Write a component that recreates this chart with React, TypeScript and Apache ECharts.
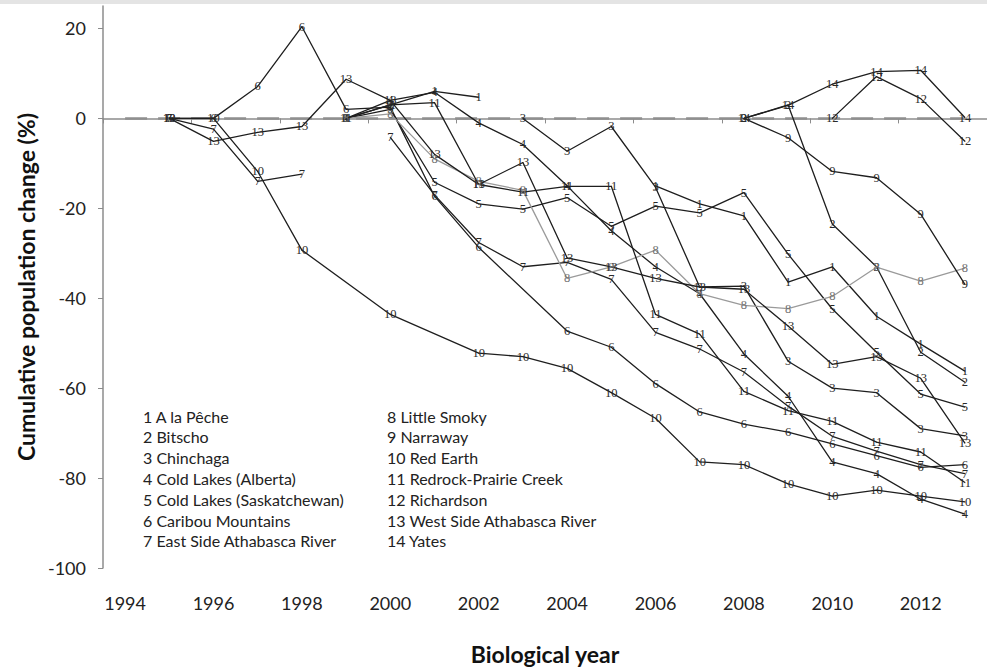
import React, { useEffect, useRef } from "react";
import * as echarts from "echarts";

const years = ["1994","1995","1996","1997","1998","1999","2000","2001","2002","2003","2004","2005","2006","2007","2008","2009","2010","2011","2012","2013"];
const n = null;
const s1 = [n,n,n,n,n,0,3,6,4.7,n,n,n,-15,-19,-21.7,-36.4,-33,-44,-50.2,-56.2];
const s2 = [n,n,n,n,n,n,n,n,n,n,n,n,n,n,0,3,-23.5,-33,-52,-58.7];
const s3 = [n,n,n,n,n,n,n,n,n,0,-7.3,-1.8,-15.3,-37.5,-37.3,-54,-60,-61,-69,-70.6];
const s4 = [n,n,n,n,n,0,4,5.8,-1,-5.8,-15,-25,-33,-39,-52.4,-61.8,-76.4,-79,-84.7,-88];
const s5 = [n,n,n,n,n,0,2,-14.2,-19,-20.2,-17.6,-24,-19.5,-21,-16.5,-30.2,-42.4,-52,-61.3,-64.2];
const s6 = [n,0,0,7.1,20.4,2,2.5,-17.3,-28.7,n,-47.3,-50.9,-59,-65.3,-68,-69.8,-72.4,-75,-77.6,-77];
const s7 = [n,0,-2.4,-14,-12.4,n,-4.2,-17,-27.6,-33,-32,-35.8,-47.6,-51.3,-56.4,-64,-70.7,-74,-77,-79];
const s8 = [n,n,n,n,n,0,1,-9,-14,-16,-35.6,-33,-29.3,-39,-41.6,-42.3,-39.6,-33.1,-36.2,-33.3];
const s9 = [n,n,n,n,n,n,n,n,n,n,n,n,n,n,0,-4.3,-11.8,-13.2,-21.3,-36.9];
const s10 = [n,0,0,-11.8,-29.3,n,-43.6,n,-52.2,-53,-55.6,-61,-66.7,-76.4,-77,-81.3,-84,-82.7,-84,-85.3];
const s11 = [n,n,n,n,n,0,3,3.5,-14.7,-16.4,-15.1,-15.1,-43.6,-48,-60.7,-65,-67.4,-72,-74.2,-81];
const s12 = [n,n,n,n,n,n,n,n,n,n,n,n,n,n,n,n,0,9.3,4.4,-5.1];
const s13 = [n,0,-5.1,-3.1,-1.8,8.7,4,-8,-14.7,-9.8,-31,-33,-35.6,-37.5,-38,-46.2,-54.7,-53,-57.8,-72.2];
const s14 = [n,n,n,n,n,n,n,n,n,n,n,n,n,n,0,2.9,7.6,10.4,10.7,0.2];
const zero = years.map(() => 0);

const allSeries = [s1,s2,s3,s4,s5,s6,s7,s8,s9,s10,s11,s12,s13,s14];
const connect = [false,false,false,false,false,true,false,false,false,true,false,false,false,false];

const legendLeft = ["1 A la Pêche","2 Bitscho","3 Chinchaga","4 Cold Lakes (Alberta)","5 Cold Lakes (Saskatchewan)","6 Caribou Mountains","7 East Side Athabasca River"];
const legendRight = ["8 Little Smoky","9 Narraway","10 Red Earth","11 Redrock-Prairie Creek","12 Richardson","13 West Side Athabasca River","14 Yates"];

export default function App() {
  const ref = useRef<HTMLDivElement>(null);
  useEffect(() => {
    document.body.style.margin = "0";
    const chart = echarts.init(ref.current!, null, { renderer: "svg" });
    const lineSeries: any[] = allSeries.map((d, i) => {
      const gray = i === 7;
      const c = gray ? "#9a9a9a" : "#1e1e1e";
      const tc = gray ? "#707070" : "#2a2a2a";
      return {
        type: "line",
        name: String(i + 1),
        color: c,
        data: d,
        connectNulls: connect[i],
        symbol: "circle",
        symbolSize: 1,
        lineStyle: { color: c, width: 1.3 },
        itemStyle: { color: c, borderWidth: 0 },
        label: {
          show: true,
          position: "inside",
          formatter: String(i + 1),
          fontFamily: "Liberation Serif",
          fontSize: 12.5,
          color: tc,
          textBorderWidth: 0,
        },
        emphasis: { disabled: true },
        z: 3,
      };
    });
    const textEls: any[] = [];
    legendLeft.forEach((t, i) =>
      textEls.push({ type: "text", left: 143, top: 408 + i * 20.8, style: { text: t, font: "16px Lato", fill: "#222" } })
    );
    legendRight.forEach((t, i) =>
      textEls.push({ type: "text", left: 387, top: 408 + i * 20.8, style: { text: t, font: "16px Lato", fill: "#222" } })
    );
    textEls.push({ type: "rect", left: 0, top: 0, shape: { width: 987, height: 4 }, style: { fill: "#e4e4e4" } });
    chart.setOption({
      animation: false,
      backgroundColor: "#ffffff",
      grid: { left: 103, right: 0, top: 6, bottom: 98, containLabel: false },
      xAxis: {
        type: "category",
        data: years,
        boundaryGap: true,
        axisLine: { lineStyle: { color: "#8c8c8c", width: 1.5 } },
        axisTick: { show: true, interval: 1, length: 5, lineStyle: { color: "#8c8c8c" } },
        axisLabel: { interval: 1, margin: 26, fontFamily: "Lato", fontSize: 18, color: "#222" },
        name: "Biological year",
        nameLocation: "middle",
        nameGap: 74,
        nameTextStyle: { fontFamily: "Lato", fontSize: 23, fontWeight: "bold", color: "#111" },
      },
      yAxis: {
        type: "value",
        min: -100,
        max: 25,
        interval: 20,
        splitLine: { show: false },
        axisLine: { show: true, lineStyle: { color: "#8c8c8c", width: 1.5 } },
        axisTick: { show: true, length: 5, lineStyle: { color: "#8c8c8c" } },
        axisLabel: { showMaxLabel: false, margin: 17, fontFamily: "Lato", fontSize: 18, color: "#222" },
        name: "Cumulative population change (%)",
        nameLocation: "middle",
        nameGap: 66,
        nameTextStyle: { fontFamily: "Lato", fontSize: 23, fontWeight: "bold", color: "#111" },
      },
      graphic: textEls,
      series: [
        {
          type: "line",
          name: "zero",
          data: zero,
          symbol: "none",
          lineStyle: { color: "#8f8f8f", width: 2.5, type: [22, 11] },
          silent: true,
          z: 1,
        },
        ...lineSeries,
      ],
    });
    return () => chart.dispose();
  }, []);
  return <div ref={ref} style={{ width: 987, height: 670, position: "absolute", left: 0, top: 0 }} />;
}
